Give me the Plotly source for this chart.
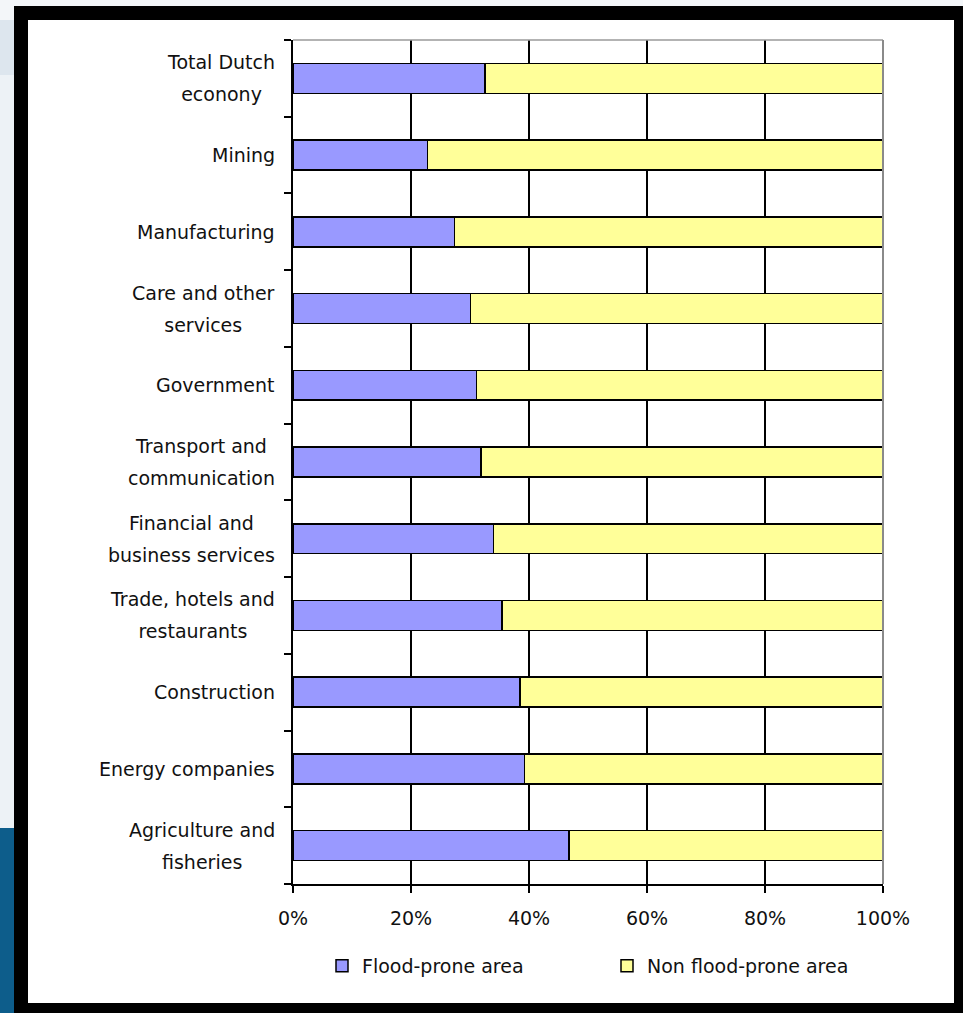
import plotly.graph_objects as go

categories = [
    "Total Dutch<br>econony",
    "Mining",
    "Manufacturing",
    "Care and other<br>services",
    "Government",
    "Transport and<br>communication",
    "Financial and<br>business services",
    "Trade, hotels and<br>restaurants",
    "Construction",
    "Energy companies",
    "Agriculture and<br>fisheries",
]
flood_prone = [32.5, 22.8, 27.4, 30.1, 31.1, 31.9, 34.0, 35.4, 38.5, 39.2, 46.8]
non_flood_prone = [67.5, 77.2, 72.6, 69.9, 68.9, 68.1, 66.0, 64.6, 61.5, 60.8, 53.2]
x_ticks = [0, 20, 40, 60, 80, 100]
x_tick_labels = ["0%", "20%", "40%", "60%", "80%", "100%"]
series_names = ["Flood-prone area", "Non flood-prone area"]

W, H = 963, 1013
L, R, T, B = 293, 80, 40, 129
PW, PH = W - L - R, H - T - B
FONT = "DejaVu Sans"
TXT = "#111111"


def px(x):
    return (x - L) / PW


def py(y):
    return (H - B - y) / PH


def rect(x0, y0, x1, y1, color):
    return dict(type="rect", xref="paper", yref="paper",
                x0=px(x0), x1=px(x1), y0=py(y1), y1=py(y0),
                fillcolor=color, line=dict(width=0), layer="below")


fig = go.Figure()
fig.add_trace(go.Bar(y=categories, x=flood_prone, name=series_names[0], orientation="h",
                     marker=dict(color="#9999FF", line=dict(color="#000000", width=1.5))))
fig.add_trace(go.Bar(y=categories, x=non_flood_prone, name=series_names[1], orientation="h",
                     marker=dict(color="#FFFF99", line=dict(color="#000000", width=1.5))))

shapes = [
    rect(0, 0, W, 6, "#f3f6f9"),
    rect(0, 0, 14, 20, "#f3f6f9"),
    rect(0, 20, 14, 75, "#dde6ee"),
    rect(0, 75, 14, 828, "#edf2f6"),
    rect(0, 828, 14, H, "#0d5d8b"),
    rect(28, 20, 954, 1003, "#ffffff"),
    dict(type="line", xref="paper", yref="paper", x0=0, x1=1, y0=1, y1=1,
         line=dict(color="#9a9a9a", width=1.5), layer="above"),
    dict(type="line", xref="paper", yref="paper", x0=1, x1=1, y0=0, y1=1,
         line=dict(color="#8a8a8a", width=2), layer="above"),
]

annotations = []
for c in categories:
    annotations.append(dict(
        xref="paper", yref="y", x=0, y=c, xanchor="right", yanchor="middle",
        xshift=-16, align="center", showarrow=False,
        text='<span style="font-size:19px">' + c.replace("<br>", '</span><br><span style="font-size:19px">') + "</span>",
        font=dict(family=FONT, size=24.6, color=TXT),
    ))

fig.update_layout(
    width=W, height=H, autosize=False,
    margin=dict(l=L, r=R, t=T, b=B, pad=0),
    paper_bgcolor="#000000", plot_bgcolor="#ffffff",
    barmode="stack", bargap=0.61,
    font=dict(family=FONT, size=19, color=TXT),
    shapes=shapes, annotations=annotations,
    showlegend=True,
    legend=dict(orientation="h", x=px(322), y=py(966), xanchor="left", yanchor="middle",
                entrywidth=240, entrywidthmode="pixels", traceorder="normal",
                bgcolor="rgba(0,0,0,0)", font=dict(family=FONT, size=19, color=TXT)),
    xaxis=dict(range=[0, 100], tickvals=x_ticks, ticktext=x_tick_labels,
               showgrid=True, gridcolor="#000000", gridwidth=1.5,
               showline=True, linecolor="#000000", linewidth=1.5,
               ticks="outside", ticklen=7, tickwidth=1.5, tickcolor="#000000",
               ticklabelstandoff=9, zeroline=False, fixedrange=True,
               tickfont=dict(family=FONT, size=19, color=TXT)),
    yaxis=dict(type="category", categoryorder="array", categoryarray=categories[::-1],
               showticklabels=False, showgrid=False, zeroline=False,
               showline=True, linecolor="#000000", linewidth=1.5,
               ticks="outside", ticklen=7, tickwidth=1.5, tickcolor="#000000",
               tickson="boundaries", fixedrange=True),
)

fig.write_html("out.html")
